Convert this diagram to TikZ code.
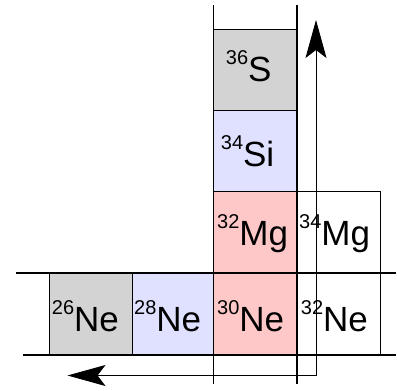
\documentclass[tikz,border=0pt]{standalone}
\usepackage{fontspec}
\setmainfont{Liberation Sans}
\usetikzlibrary{arrows.meta}
\definecolor{cgray}{HTML}{D3D3D3}
\definecolor{clav}{HTML}{E0E0FF}
\definecolor{cpink}{HTML}{FFC8C8}
\newcommand\isosup[1]{\raisebox{17pt}{\fontsize{20pt}{21pt}\selectfont #1}}
\tikzset{
  cell/.style={draw=black, line width=0.8pt, minimum width=83.4pt, minimum height=81.6pt, inner sep=0pt, outer sep=0pt},
  lab/.style={anchor=base west, inner sep=0pt, font=\fontsize{35pt}{38pt}\selectfont},
  gridline/.style={draw=black, line width=1.6pt},
  flow/.style={draw=black, line width=0.9pt, -{Stealth[length=38pt,width=21pt,inset=8pt]}}
}
\begin{document}
\begin{tikzpicture}[x=1pt,y=-1pt]
\useasboundingbox (0,0) rectangle (397,391);
% cells
\node[cell, fill=cgray] (s36) at (255,70) {};
\node[cell, fill=clav] (si34) at (255,150.85) {};
\node[cell, fill=cpink] (mg32) at (255,231.85) {};
\node[cell, fill=white] (mg34) at (338.35,231.85) {};
\node[cell, fill=cgray] (ne26) at (91,313.85) {};
\node[cell, fill=clav, minimum width=80.6pt] (ne28) at (173,313.85) {};
\node[cell, fill=cpink] (ne30) at (255,313.85) {};
\node[cell, fill=white] (ne32) at (338.35,313.85) {};
% labels
\node[lab] (t36) at (225.7,81) {\isosup{36}S};
\node[lab] (t34si) at (220.7,166.7) {\isosup{34}Si};
\node[lab] (t32mg) at (217,245) {\isosup{32}Mg};
\node[lab] (t34mg) at (299,245) {\isosup{34}Mg};
\node[lab] (t26) at (51.7,331.7) {\isosup{26}Ne};
\node[lab] (t28) at (134,331.7) {\isosup{28}Ne};
\node[lab] (t30) at (217,331.7) {\isosup{30}Ne};
\node[lab] (t32) at (300.7,331.7) {\isosup{32}Ne};
% grid lines
\coordinate (v1t) at (213.3,5);
\coordinate (v1b) at (213.3,384);
\coordinate (v2t) at (296.7,5);
\coordinate (v2b) at (296.7,384);
\coordinate (h1l) at (16,272.7);
\coordinate (h1r) at (396,272.7);
\coordinate (h2l) at (22.7,355);
\coordinate (h2r) at (396,355);
\draw[gridline] (v1t) -- (v1b);
\draw[gridline] (v2t) -- (v2b);
\draw[gridline] (h1l) -- (h1r);
\draw[gridline] (h2l) -- (h2r);
% arrows
\coordinate (corner) at (316,375.5);
\coordinate (uptip) at (316,20);
\coordinate (lefttip) at (67.5,375.5);
\draw[flow] (corner) -- (uptip);
\draw[flow] (corner) -- (lefttip);
\end{tikzpicture}
\end{document}
